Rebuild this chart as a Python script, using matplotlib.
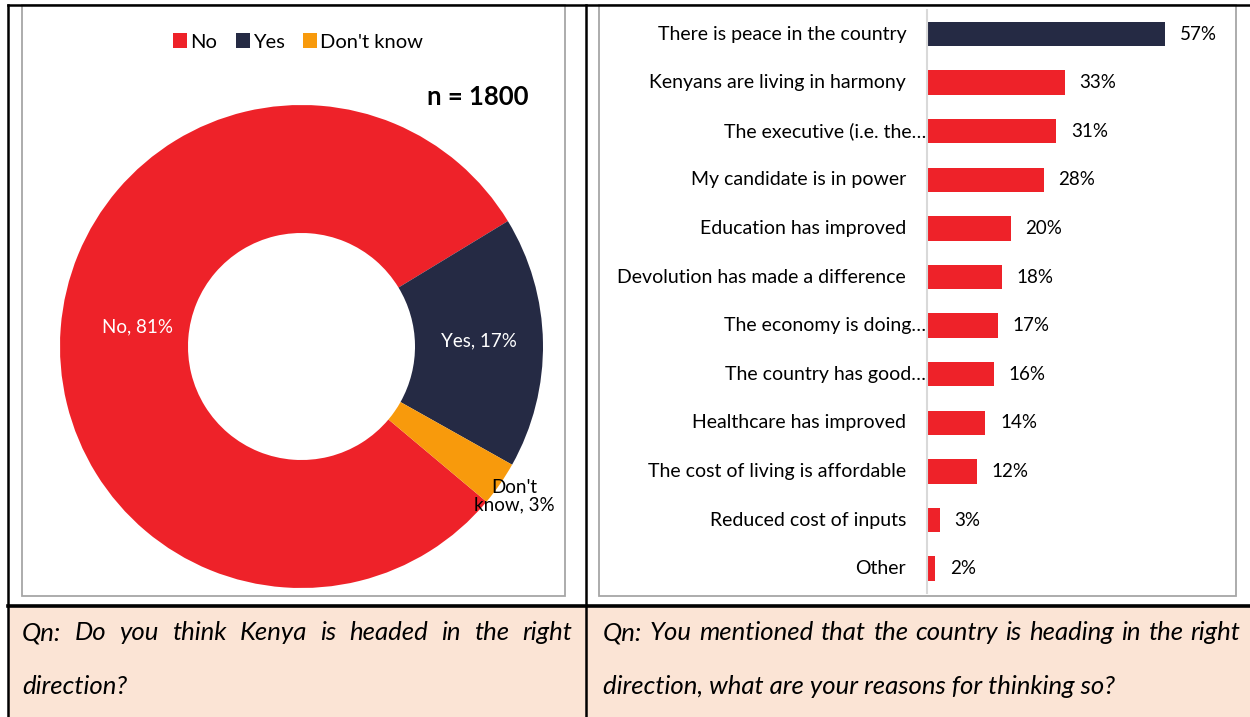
import matplotlib
matplotlib.use("Agg")
import matplotlib.pyplot as plt
from matplotlib.patches import Rectangle
from matplotlib.lines import Line2D

plt.rcParams['font.family'] = ['Lato', 'DejaVu Sans']

# ---- data ----
pie_labels = ["No", "Yes", "Don't know"]
pie_values = [81, 17, 3]
pie_text = ["No, 81%", "Yes, 17%", "Don't\nknow, 3%"]
sample_size = 1800

reasons = [
    "There is peace in the country",
    "Kenyans are living in harmony",
    "The executive (i.e. the…",
    "My candidate is in power",
    "Education has improved",
    "Devolution has made a difference",
    "The economy is doing…",
    "The country has good…",
    "Healthcare has improved",
    "The cost of living is affordable",
    "Reduced cost of inputs",
    "Other",
]
reason_pct = [57, 33, 31, 28, 20, 18, 17, 16, 14, 12, 3, 2]

question_left = ["Qn: Do you think Kenya is headed in the right", "direction?"]
question_right = ["Qn: You mentioned that the country is heading in the right",
                  "direction, what are your reasons for thinking so?"]

RED = "#EE2229"
NAVY = "#252A44"
ORANGE = "#F89A0C"
PINK = "#FBE4D5"
GREY = "#A6A6A6"

W, H = 1250, 717
fig = plt.figure(figsize=(W / 100, H / 100), dpi=100)


def fx(px):
    return px / W


def fy(py):
    return 1 - py / H


# ---- table background and borders ----
bg = fig.add_axes([0, 0, 1, 1])
bg.set_xlim(0, W)
bg.set_ylim(H, 0)
bg.axis("off")
bg.add_patch(Rectangle((8, 607), W, H - 607, facecolor=PINK, edgecolor="none"))
bg.add_line(Line2D([8, W], [5, 5], color="black", lw=1.8))
bg.add_line(Line2D([8, 8], [5, H], color="black", lw=1.8))
bg.add_line(Line2D([586, 586], [5, H], color="black", lw=1.8))
bg.add_line(Line2D([8, W], [606, 606], color="black", lw=2.6))
# chart frames
bg.add_patch(Rectangle((22, 5), 543, 591, facecolor="none", edgecolor=GREY, lw=1.3))
bg.add_patch(Rectangle((599, 5), 637, 591, facecolor="none", edgecolor=GREY, lw=1.3))

# ---- doughnut ----
cx, cy, r = 301.5, 346.5, 241.5
pax = fig.add_axes([fx(cx - r), fy(cy + r), 2 * r / W, 2 * r / H])
wedges, _ = pax.pie(pie_values, colors=[RED, NAVY, ORANGE], startangle=-40,
                    counterclock=False, radius=1,
                    wedgeprops=dict(width=0.53, edgecolor="none"))
pax.set_xlim(-1, 1)
pax.set_ylim(-1, 1)
pax.axis("off")

label_pos = [(138, 327), (479, 341), (514, 496)]
label_col = ["white", "white", "black"]
for (px, py), t, c in zip(label_pos, pie_text, label_col):
    fig.text(fx(px), fy(py), t, ha="center", va="center", color=c, fontsize=13.5,
             linespacing=1.05, zorder=5)

# legend
handles = [Rectangle((0, 0), 1, 1, facecolor=c) for c in [RED, NAVY, ORANGE]]
fig.legend(handles, pie_labels, loc="center", bbox_to_anchor=(fx(298), fy(42)),
           ncol=3, frameon=False, fontsize=14.5, handlelength=0.7,
           handleheight=0.7, handletextpad=0.15, columnspacing=0.9)

fig.text(fx(478), fy(97), f"n = {sample_size}", ha="center", va="center",
         fontsize=18.5, fontweight="bold", zorder=5)

# ---- bar chart ----
ax_left, ax_right = 927, 1177.5
row_h = 48.6
top = 34 - row_h / 2
bax = fig.add_axes([fx(ax_left), fy(top + row_h * 12), (ax_right - ax_left) / W,
                    row_h * 12 / H])
ypos = list(range(len(reasons)))
colors = [NAVY] + [RED] * (len(reasons) - 1)
bax.barh(ypos, reason_pct, height=0.5, color=colors)
bax.set_xlim(0, 60)
bax.set_ylim(len(reasons) - 0.5, -0.5)
for s in ["top", "right", "bottom"]:
    bax.spines[s].set_visible(False)
bax.spines["left"].set_color("#D9D9D9")
bax.spines["left"].set_linewidth(1.5)
bax.set_xticks([])
bax.set_yticks([])
for y, v, lab in zip(ypos, reason_pct, reasons):
    bax.annotate(f"{v}%", xy=(v, y), xytext=(10.5, 0), textcoords="offset points",
                 ha="left", va="center", fontsize=13.5, annotation_clip=False)
    off = -0.5 if lab.endswith("…") else -15
    bax.annotate(lab, xy=(0, y), xytext=(off, 0), textcoords="offset points",
                 ha="right", va="center", fontsize=14, annotation_clip=False)

# ---- question row (justified first line) ----
renderer = fig.canvas.get_renderer()


def justified(line, x0, x1, y, size):
    words = line.split()
    widths = []
    for w in words:
        t = bg.text(0, 0, w, fontsize=size, style="italic")
        widths.append(t.get_window_extent(renderer).width)
        t.remove()
    gap = (x1 - x0 - sum(widths)) / (len(words) - 1)
    x = x0
    for w, wd in zip(words, widths):
        bg.text(x, y, w, fontsize=size, style="italic", ha="left", va="center")
        x += wd + gap


QSIZE = 18.5
justified(question_left[0], 22, 572, 633, QSIZE)
bg.text(22, 686, question_left[1], fontsize=QSIZE, style="italic", ha="left", va="center")
justified(question_right[0], 603, 1240, 633, QSIZE)
bg.text(603, 686, question_right[1], fontsize=QSIZE, style="italic", ha="left", va="center")

fig.savefig("out.png", dpi=100)
